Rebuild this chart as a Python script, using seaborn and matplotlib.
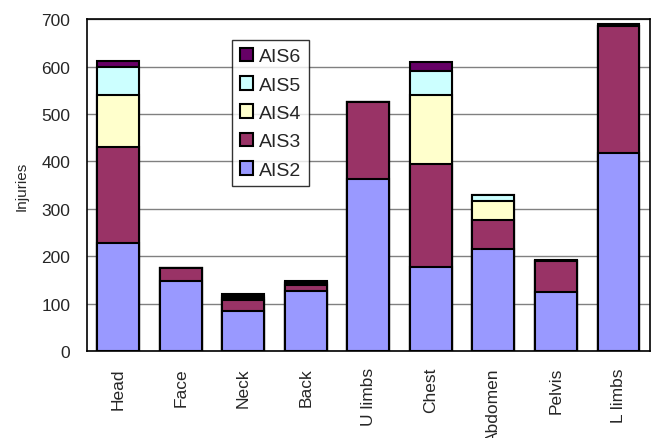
import numpy as np
import pandas as pd
import matplotlib
matplotlib.use("Agg")
import matplotlib.pyplot as plt
import seaborn as sns
from matplotlib.patches import Patch

categories = ["Head", "Face", "Neck", "Back", "U limbs", "Chest", "Abdomen", "Pelvis", "L limbs"]
ais2 = [229, 148, 84, 127, 362, 178, 216, 124, 418]
ais3 = [202, 28, 23, 13, 164, 216, 61, 65, 268]
ais4 = [109, 0, 5, 3, 0, 147, 39, 1, 0]
ais5 = [59, 0, 4, 2, 0, 50, 13, 1, 0]
ais6 = [12, 0, 5, 2, 0, 19, 0, 1, 3]
levels = ["AIS2", "AIS3", "AIS4", "AIS5", "AIS6"]
colors = ["#9999FF", "#993366", "#FFFFCC", "#CCFFFF", "#660066"]

sns.set_theme(style="white")
plt.rcParams["font.family"] = ["Liberation Sans", "DejaVu Sans"]

df = pd.DataFrame({"cat": categories, "AIS2": ais2, "AIS3": ais3,
                   "AIS4": ais4, "AIS5": ais5, "AIS6": ais6})
cum = df[levels].cumsum(axis=1)

fig = plt.figure(figsize=(6.53, 4.39), dpi=100)
ax = fig.add_axes([0.133, 0.198, 0.862, 0.756])
ax.set_axisbelow(True)
ax.yaxis.grid(True, color="#808080", linewidth=1.0)

for lvl, col in reversed(list(zip(levels, colors))):
    sns.barplot(x=df["cat"], y=cum[lvl], color=col, ax=ax, width=0.67,
                edgecolor="black", linewidth=1.5, saturation=1, zorder=3)

ax.set_ylim(0, 700)
ax.set_xlim(-0.5, len(categories) - 0.5)
ax.set_yticks(range(0, 701, 100))
ax.set_ylabel("Injuries", fontsize=11, labelpad=9)
ax.set_xlabel("")
ax.tick_params(axis="y", labelsize=12.5, direction="in", length=5, pad=12, color="black")
ax.tick_params(axis="x", which="major", labelsize=12.5, length=0, pad=11.5, labelrotation=90)
ax.set_xticks(np.arange(0.5, len(categories) - 1, 1.0), minor=True)
ax.tick_params(axis="x", which="minor", direction="in", length=5, color="black")
for s in ax.spines.values():
    s.set_visible(True)
    s.set_color("black")
    s.set_linewidth(1.2)

handles = [Patch(facecolor=c, edgecolor="black", linewidth=1.5, label=l)
           for l, c in reversed(list(zip(levels, colors)))]
leg = ax.legend(handles=handles, loc="upper left", bbox_to_anchor=(0.2575, 0.937),
                fontsize=14, frameon=True, fancybox=False, edgecolor="black",
                handlelength=0.7, handleheight=0.7, handletextpad=0.3,
                labelspacing=0.55, borderpad=0.4, borderaxespad=0)
leg.get_frame().set_linewidth(1.0)

fig.savefig("out.png", dpi=100, facecolor="white")
